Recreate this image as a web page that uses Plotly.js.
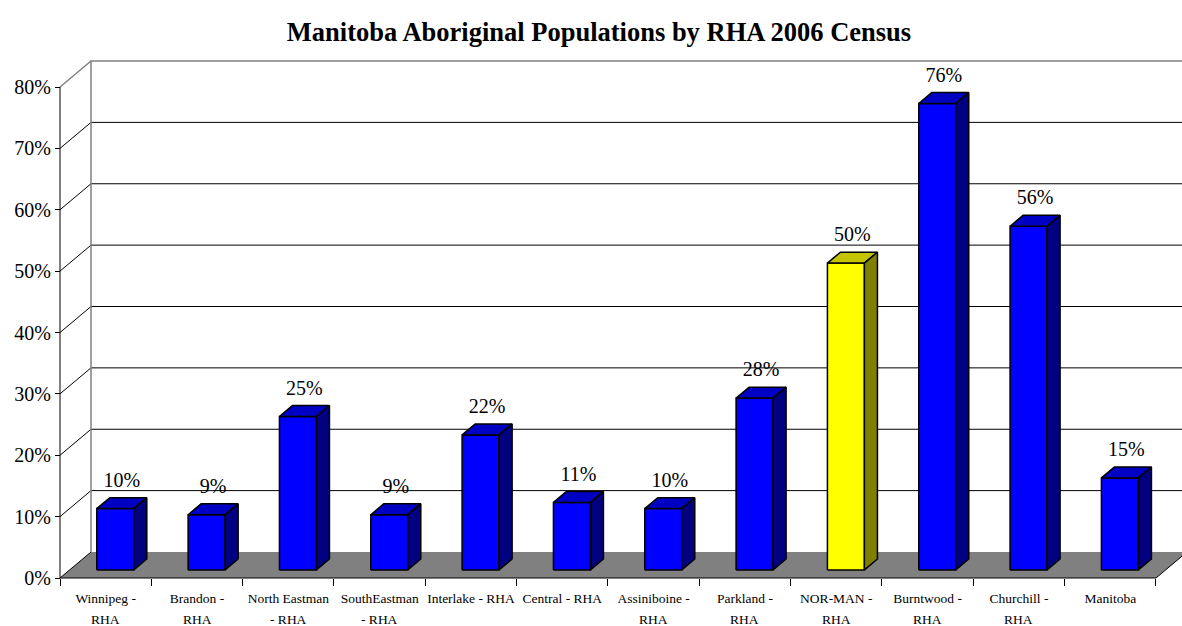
<!DOCTYPE html>
<html>
<head>
<meta charset="utf-8">
<script src="https://cdn.plot.ly/plotly-3.0.1.min.js"></script>
<style>html,body{margin:0;padding:0;background:#fff;}#chart{width:1182px;height:626px;}</style>
</head>
<body>
<div id="chart"></div>
<script>
// ---------- data ----------
const labelLine1 = ["Winnipeg -", "Brandon -", "North Eastman", "SouthEastman", "Interlake - RHA", "Central - RHA", "Assiniboine -", "Parkland -", "NOR-MAN -", "Burntwood -", "Churchill -", "Manitoba"];
const labelLine2 = ["RHA", "RHA", "- RHA", "- RHA", "", "", "RHA", "RHA", "RHA", "RHA", "RHA", ""];
const values = [10, 9, 25, 9, 22, 11, 10, 28, 50, 76, 56, 15];
const highlighted = ["NOR-MAN -"];
const yTickValues = [0, 10, 20, 30, 40, 50, 60, 70, 80];
const titleText = "Manitoba Aboriginal Populations by RHA 2006 Census";

// ---------- geometry (pixel scale of the pseudo-3D frame) ----------
const W = 1182, H = 626;
const PX_X = 91.33, PX_Y = 6.1375;   // px per category, px per percent
const X0PX = 60, Y0PX = 578;         // front origin in px
const mL = 50, mR = 0, mT = 55, mB = 40;
const xmin = -0.5 - (X0PX - mL) / PX_X;
const xmax = -0.5 + (W - mR - X0PX) / PX_X;
const ymin = -(H - mB - Y0PX) / PX_Y;
const ymax = (Y0PX - mT) / PX_Y;
const DX = 31 / PX_X, DY = 26 / PX_Y;   // depth of floor / back wall
const HW = 18.5 / PX_X;                 // bar half width
const F0 = 0.31, F1 = 0.73;             // bar depth start/end (fraction of depth)
const LABEL_GAP = 6 / PX_Y;             // extra lift of value labels
const n = values.length;
const ymaxTick = yTickValues[yTickValues.length - 1];
const SERIF = "Liberation Serif, Times New Roman, serif";

const traces = [];
// floor
traces.push({x: [-0.5, n - 0.5, n - 0.5 + DX, -0.5 + DX], y: [0, 0, DY, DY], mode: 'lines', fill: 'toself',
  fillcolor: '#808080', line: {width: 0, color: '#808080'}, hoverinfo: 'skip'});
// gridlines on back wall
const gx = [], gy = [];
yTickValues.slice(1, -1).forEach(v => { gx.push(-0.5 + DX, xmax + 1, null); gy.push(v + DY, v + DY, null); });
traces.push({x: gx, y: gy, mode: 'lines', line: {color: '#000', width: 1}, hoverinfo: 'skip'});
// oblique lines from front ticks
const ox = [], oy = [];
yTickValues.slice(0, -1).forEach(v => { ox.push(-0.5, -0.5 + DX, null); oy.push(v, v + DY, null); });
traces.push({x: ox, y: oy, mode: 'lines', line: {color: '#000', width: 1}, hoverinfo: 'skip'});
// back wall outline (grey)
traces.push({x: [-0.5, -0.5 + DX, null, -0.5 + DX, -0.5 + DX, xmax + 1], y: [ymaxTick, ymaxTick + DY, null, DY, ymaxTick + DY, ymaxTick + DY],
  mode: 'lines', line: {color: '#808080', width: 1.5}, hoverinfo: 'skip'});
// front axes and floor right edge
traces.push({x: [-0.5, -0.5, null, -0.5, n - 0.5, n - 0.5 + DX], y: [ymaxTick, 0, null, 0, 0, DY],
  mode: 'lines', line: {color: '#000', width: 1}, hoverinfo: 'skip'});

// bars
function faces(idx) {
  const fr = {x: [], y: []}, tp = {x: [], y: []}, sd = {x: [], y: []};
  idx.forEach(i => {
    const v = values[i];
    const xl = i - HW + F0 * DX, xr = i + HW + F0 * DX;
    const xl1 = i - HW + F1 * DX, xr1 = i + HW + F1 * DX;
    const yb = F0 * DY, yt = v + F0 * DY, yb1 = F1 * DY, yt1 = v + F1 * DY;
    fr.x.push(xl, xr, xr, xl, xl, null); fr.y.push(yb, yb, yt, yt, yb, null);
    tp.x.push(xl, xr, xr1, xl1, xl, null); tp.y.push(yt, yt, yt1, yt1, yt, null);
    sd.x.push(xr, xr1, xr1, xr, xr, null); sd.y.push(yb, yb1, yt1, yt, yb, null);
  });
  return {fr, tp, sd};
}
const isHi = labelLine1.map(c => highlighted.includes(c));
const groups = [
  {idx: values.map((_, i) => i).filter(i => !isHi[i]), front: '#0000FF', top: '#0000C4', side: '#000080'},
  {idx: values.map((_, i) => i).filter(i => isHi[i]), front: '#FFFF00', top: '#C4C400', side: '#808000'}
];
groups.forEach(g => {
  const f = faces(g.idx);
  [[f.fr, g.front], [f.tp, g.top], [f.sd, g.side]].forEach(([p, c]) => {
    traces.push({x: p.x, y: p.y, mode: 'lines', fill: 'toself', fillcolor: c,
      line: {color: '#000', width: 1.5}, hoverinfo: 'skip', connectgaps: false});
  });
});
// value labels
traces.push({
  x: values.map((v, i) => i + F0 * DX + (F1 - F0) * DX / 2),
  y: values.map(v => v + F1 * DY + LABEL_GAP),
  text: values.map(v => v + '%'),
  mode: 'text', textposition: 'top center', cliponaxis: false,
  textfont: {family: SERIF, size: 20, color: '#000'}, hoverinfo: 'skip'
});

const boundaries = [];
for (let i = 0; i <= n; i++) boundaries.push(i - 0.5);

const plotH = H - mT - mB;
const annotations = labelLine2.map((t, i) => ({
  x: i, xref: 'x', y: (H - mB - 619) / plotH, yref: 'paper', text: t, showarrow: false,
  xanchor: 'center', yanchor: 'middle', font: {family: SERIF, size: 13.5, color: '#000'}
}));

const layout = {
  width: W, height: H,
  margin: {l: mL, r: mR, t: mT, b: mB, pad: 0},
  paper_bgcolor: '#fff', plot_bgcolor: 'rgba(0,0,0,0)',
  showlegend: false, hovermode: false,
  title: {text: titleText, x: 599 / W, xref: 'container', xanchor: 'center', y: 1 - 32 / H, yref: 'container', yanchor: 'middle',
    font: {family: SERIF, size: 26.5, color: '#000', weight: 'bold'}},
  xaxis: {range: [xmin, xmax], anchor: 'free', position: (0 - ymin) / (ymax - ymin), fixedrange: true,
    tickmode: 'array', tickvals: labelLine1.map((_, i) => i), ticktext: labelLine1,
    ticks: '', showgrid: false, zeroline: false, showline: false, ticklabelstandoff: 10,
    tickfont: {family: SERIF, size: 13.5, color: '#000'},
    minor: {tickmode: 'array', tickvals: boundaries, ticks: 'outside', ticklen: 7, tickcolor: '#000', tickwidth: 1, showgrid: false}},
  yaxis: {range: [ymin, ymax], anchor: 'free', position: (-0.5 - xmin) / (xmax - xmin), fixedrange: true,
    tickmode: 'array', tickvals: yTickValues, ticktext: yTickValues.map(v => v + '%'),
    ticks: 'outside', ticklen: 5, tickcolor: '#000', tickwidth: 1,
    showgrid: false, zeroline: false, showline: false,
    tickfont: {family: SERIF, size: 20, color: '#000'}},
  annotations: annotations
};
Plotly.newPlot('chart', traces, layout, {staticPlot: true, displayModeBar: false});
</script>
</body>
</html>
